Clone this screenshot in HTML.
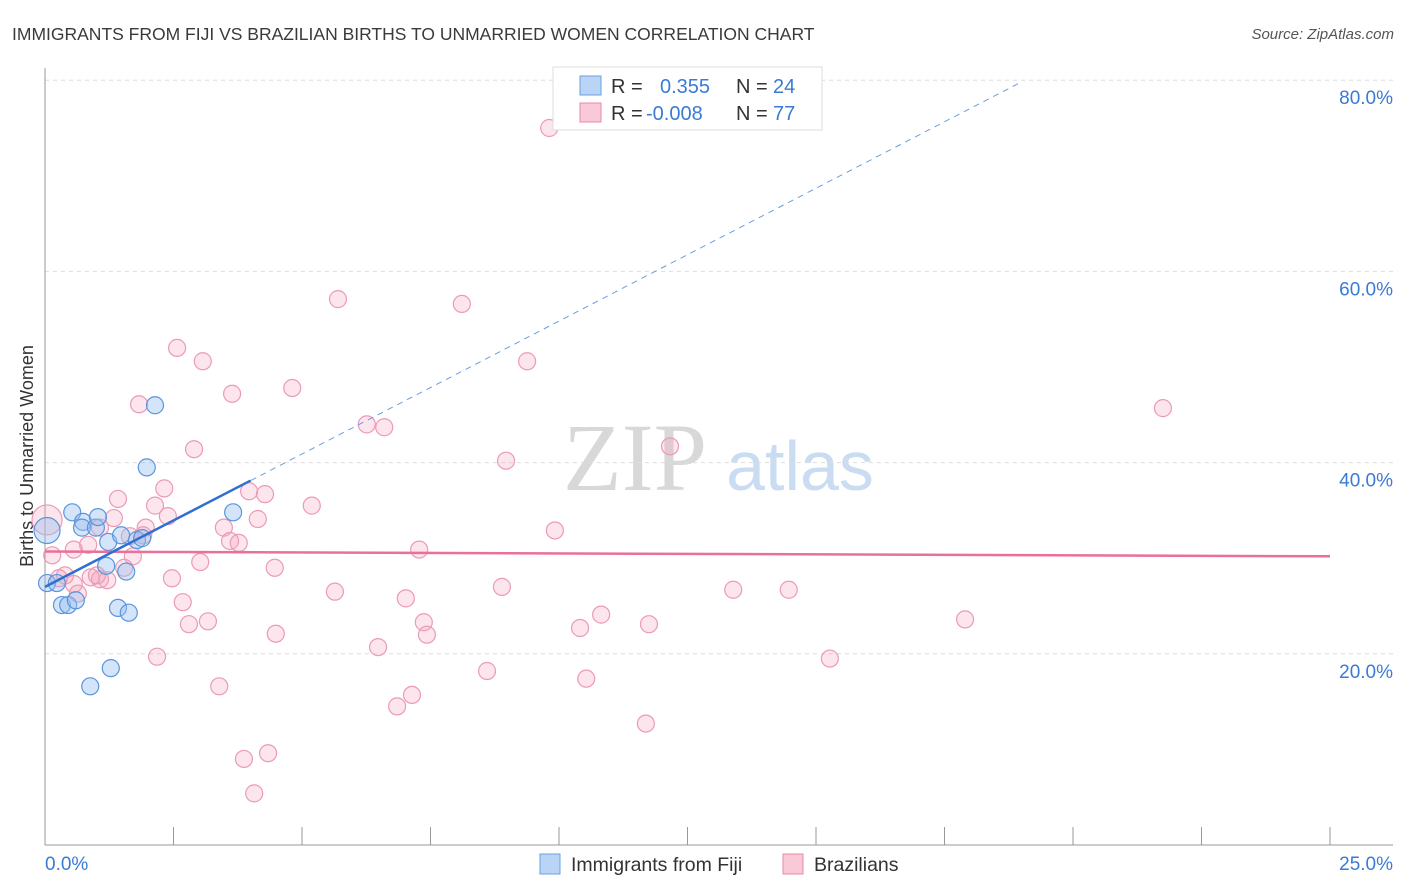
<!DOCTYPE html>
<html><head><meta charset="utf-8"><style>
body{margin:0;background:#fff;font-family:"Liberation Sans",sans-serif;}
svg{display:block}
</style></head><body>
<svg width="1406" height="892" id="c">
<text x="12" y="40" font-size="17.5" fill="#3a3a3a">IMMIGRANTS FROM FIJI VS BRAZILIAN BIRTHS TO UNMARRIED WOMEN CORRELATION CHART</text>
<text x="1394" y="39" font-size="15" fill="#555" text-anchor="end" font-style="italic">Source: ZipAtlas.com</text>
<text x="33" y="456" font-size="18" fill="#333" text-anchor="middle" transform="rotate(-90 33 456)">Births to Unmarried Women</text>
<g>
<text x="635" y="490" font-size="96" font-family="Liberation Serif,serif" fill="#d8d8d8" text-anchor="middle">ZIP</text>
<text x="800" y="490" font-size="70" fill="#c9dcf2" text-anchor="middle">atlas</text></g>
<g id="grid"></g><g id="marks"></g>
<g>
<rect x="553" y="67" width="269" height="63" fill="#fff" stroke="#ddd"/>
<rect x="580" y="76" width="21" height="19" fill="#b9d4f5" stroke="#6a9fe0"/>
<rect x="580" y="103" width="21" height="19" fill="#f9c9d8" stroke="#e58aa8"/>
<text x="611" y="93" font-size="20" fill="#333">R =</text><text x="660" y="93" font-size="20" fill="#3a7bd5">0.355</text>
<text x="736" y="93" font-size="20" fill="#333">N =</text><text x="773" y="93" font-size="20" fill="#3a7bd5">24</text>
<text x="611" y="120" font-size="20" fill="#333">R =</text><text x="646" y="120" font-size="20" fill="#3a7bd5">-0.008</text>
<text x="736" y="120" font-size="20" fill="#333">N =</text><text x="773" y="120" font-size="20" fill="#3a7bd5">77</text></g>
<g>
<rect x="540" y="854" width="20" height="20" fill="#b9d4f5" stroke="#6a9fe0"/>
<text x="571" y="871" font-size="19.5" fill="#333">Immigrants from Fiji</text>
<rect x="783" y="854" width="20" height="20" fill="#f9c9d8" stroke="#e58aa8"/>
<text x="814" y="871" font-size="19.5" fill="#333">Brazilians</text></g>
</svg>
<script>
const xTickVals=[0,2.5,5,7.5,10,12.5,15,17.5,20,22.5,25];
const yTickVals=[20,40,60,80];
const yTickLabels=["20.0%","40.0%","60.0%","80.0%"];
const xEndLabels=["0.0%","25.0%"];
const fijiX=[0.04,0.04,0.23,0.33,0.45,0.53,0.6,0.74,0.72,0.99,1.03,0.88,1.23,1.19,1.28,1.42,1.48,1.58,1.63,1.79,1.89,1.98,2.14,3.66];
const fijiY=[32.9,27.4,27.4,25.1,25.1,34.8,25.6,33.8,33.2,33.2,34.3,16.6,31.7,29.2,18.5,24.8,32.4,28.6,24.3,31.9,32.1,39.5,46.0,34.8];
const brX=[9.81,5.70,8.11,2.57,3.07,9.38,4.81,3.64,1.83,21.75,2.90,6.26,6.60,12.16,8.97,2.32,4.28,3.97,1.42,2.14,5.19,4.14,1.34,3.48,1.96,1.07,9.92,1.65,1.91,2.39,3.60,3.77,0.84,0.56,7.28,0.04,0.14,1.71,4.47,3.02,1.54,0.39,0.27,0.89,1.07,1.21,2.47,1.01,0.56,8.89,5.64,13.39,14.47,0.64,2.68,7.02,10.82,17.90,3.17,7.37,2.80,10.41,11.75,4.49,7.43,6.48,15.27,2.18,8.60,10.53,3.39,7.14,6.85,11.69,4.34,3.87,4.07];
const brY=[75.0,57.1,56.6,52.0,50.6,50.6,47.8,47.2,46.1,45.7,41.4,44.0,43.7,41.7,40.2,37.3,36.7,37.0,36.2,35.5,35.5,34.1,34.2,33.2,33.2,33.2,32.9,32.3,32.4,34.4,31.8,31.6,31.4,30.9,30.9,34.0,30.3,30.2,29.0,29.6,29.0,28.2,27.9,28.0,27.8,27.7,27.9,28.2,27.3,27.0,26.5,26.7,26.7,26.3,25.4,25.8,24.1,23.6,23.4,23.3,23.1,22.7,23.1,22.1,22.0,20.7,19.5,19.7,18.2,17.4,16.6,15.7,14.5,12.7,9.6,9.0,5.4];
const fijiTrend=[27.0,2.78]; // intercept, slope
const brTrend=[30.7,-0.02];
const X=v=>45+v*51.4, Y=v=>845-v*9.56;
const NS="http://www.w3.org/2000/svg";
function mk(p,t,a){const e=document.createElementNS(NS,t);for(const k in a)e.setAttribute(k,a[k]);p.appendChild(e);return e;}
const grid=document.getElementById('grid'), marks=document.getElementById('marks');
yTickVals.forEach((v,i)=>{
 const l=mk(grid,'line',{x1:45,x2:1393,y1:Y(v),y2:Y(v),stroke:'#ddd','stroke-dasharray':'4,4'});
 
 
 const t=mk(grid,'text',{x:1393,y:Y(v)+24,'font-size':19,fill:'#3a7bd5','text-anchor':'end'});t.textContent=yTickLabels[i];
 
 
});
const ax=mk(grid,'line',{x1:45,x2:45,y1:68,y2:845,stroke:'#999'});


const bx=mk(grid,'line',{x1:45,x2:1393,y1:845,y2:845,stroke:'#999'});


xTickVals.forEach(v=>{const t=mk(grid,'line',{x1:X(v),x2:X(v),y1:827,y2:845,stroke:'#999'});
 
 });
[[0,45,'start'],[1,1393,'end']].forEach(([i,x,a])=>{const t=mk(grid,'text',{x:x,y:870,'font-size':19,fill:'#3a7bd5','text-anchor':a});t.textContent=xEndLabels[i];
 
 });
brX.forEach((x,i)=>{const c=mk(marks,'circle',{cx:X(x),cy:Y(brY[i]),r:i==35?15:8.5,fill:'rgba(244,160,188,0.28)',stroke:'#ec9ab5','stroke-width':1.2});
 
 });
fijiX.forEach((x,i)=>{const c=mk(marks,'circle',{cx:X(x),cy:Y(fijiY[i]),r:i==0?13:8.5,fill:'rgba(150,190,240,0.4)',stroke:'#5b95dd','stroke-width':1.2});
 
 });
const bl=mk(marks,'line',{x1:X(0),y1:Y(brTrend[0]),x2:X(25),y2:Y(brTrend[0]+25*brTrend[1]),stroke:'#e8709a','stroke-width':2.5});


const fl=mk(marks,'line',{x1:X(0),y1:Y(fijiTrend[0]),x2:X(4),y2:Y(fijiTrend[0]+4*fijiTrend[1]),stroke:'#2f6fd0','stroke-width':2.5});


const fd=mk(marks,'line',{x1:X(4),y1:Y(fijiTrend[0]+4*fijiTrend[1]),x2:X(19),y2:Y(fijiTrend[0]+19*fijiTrend[1]),stroke:'#6a9fe0','stroke-width':1,'stroke-dasharray':'6,5'});


</script>
</body></html>
